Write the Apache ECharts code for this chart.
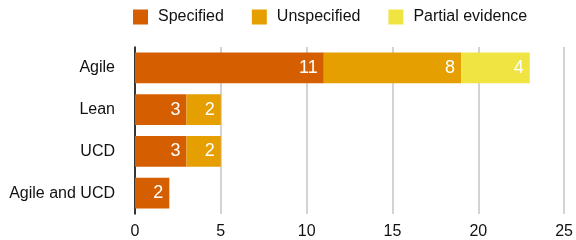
<!DOCTYPE html>
<html>
<head>
	<meta charset="utf-8">
	<title>ECharts</title>
	<script src="https://cdn.jsdelivr.net/npm/echarts@6/dist/echarts.min.js"></script>
</head>
<body style="margin:0">
	<div id="chart" style="width: 576px;height:240px;"></div>
	<script type="text/javascript">
		var categories = ['Agile', 'Lean', 'UCD', 'Agile and UCD'];
		var specified = [11, 3, 3, 2];
		var unspecified = [8, 2, 2, null];
		var partial = [4, null, null, null];
		var seriesNames = ['Specified', 'Unspecified', 'Partial evidence'];
		var colors = ['#D55E00', '#E69F00', '#F0E442'];

		var font = 'Liberation Sans, Helvetica, Arial, sans-serif';

		function makeSeries(name, data, color) {
			return {
				name: name,
				type: 'bar',
				stack: 'total',
				data: data,
				barCategoryGap: '26%',
				itemStyle: { color: color },
				label: {
					show: true,
					position: 'insideRight',
					color: '#fff',
					fontSize: 18,
					fontFamily: font,
					distance: 6
				}
			};
		}

		var myChart = echarts.init(document.getElementById('chart'));
		var option = {
			animation: false,
			legend: {
				top: 9,
				left: 133,
				padding: 0,
				itemWidth: 15,
				itemHeight: 15,
				itemGap: 28,
				icon: 'rect',
				textStyle: { fontSize: 16, fontFamily: font, color: '#111', padding: [2, 0, 0, 5] },
				data: seriesNames
			},
			grid: { left: 135, right: 9, top: 47, bottom: 26 },
			xAxis: {
				type: 'value',
				min: 0,
				max: 25,
				interval: 5,
				axisLine: { show: false },
				axisTick: { show: false },
				splitLine: { lineStyle: { color: '#c4c4c4', width: 1.5 } },
				axisLabel: { fontSize: 16, fontFamily: font, color: '#111', margin: 10 }
			},
			yAxis: {
				type: 'category',
				inverse: true,
				data: categories,
				axisLine: { show: true, lineStyle: { color: '#000', width: 1.5 } },
				axisTick: { show: false },
				axisLabel: { fontSize: 16, fontFamily: font, color: '#111', margin: 20 }
			},
			series: [
				makeSeries(seriesNames[0], specified, colors[0]),
				makeSeries(seriesNames[1], unspecified, colors[1]),
				makeSeries(seriesNames[2], partial, colors[2])
			]
		};
		myChart.setOption(option);
	</script>
</body>
</html>
